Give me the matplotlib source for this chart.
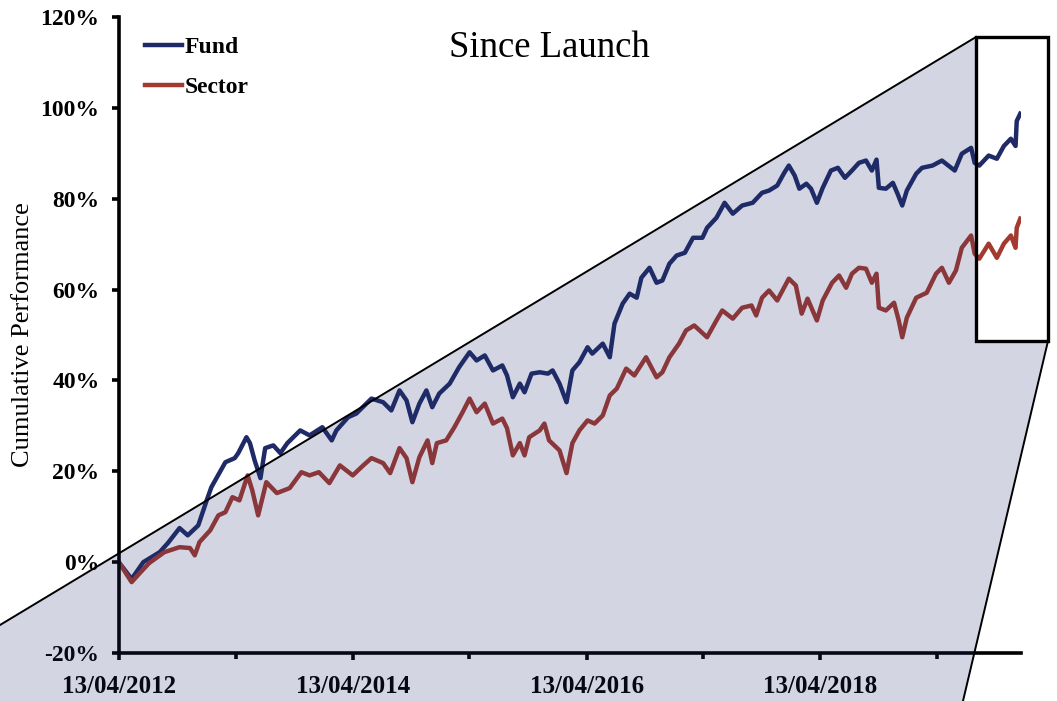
import matplotlib
matplotlib.use("Agg")
import matplotlib.pyplot as plt
from matplotlib.patches import Polygon, Rectangle
from matplotlib.lines import Line2D
from matplotlib.ticker import FuncFormatter
import pandas as pd
import numpy as np

plt.rcParams['font.family'] = ['Liberation Serif', 'DejaVu Serif']

# ---- data (fractional years, cumulative performance in %) ----
fund_years = [2012.28, 2012.39, 2012.49, 2012.63, 2012.70, 2012.80, 2012.87, 2012.96, 2013.03, 2013.07,
              2013.19, 2013.27, 2013.30, 2013.37, 2013.40, 2013.44, 2013.49, 2013.53, 2013.60, 2013.66,
              2013.72, 2013.83, 2013.91, 2014.02, 2014.10, 2014.14, 2014.24, 2014.31, 2014.44, 2014.54,
              2014.61, 2014.68, 2014.74, 2014.79, 2014.85, 2014.91, 2014.96, 2015.02, 2015.11, 2015.19,
              2015.28, 2015.34, 2015.41, 2015.48, 2015.56, 2015.60, 2015.65, 2015.71, 2015.75, 2015.81,
              2015.88, 2015.95, 2015.99, 2016.05, 2016.11, 2016.16, 2016.22, 2016.29, 2016.33, 2016.42,
              2016.48, 2016.52, 2016.59, 2016.65, 2016.71, 2016.75, 2016.82, 2016.88, 2016.93, 2016.99,
              2017.05, 2017.12, 2017.19, 2017.27, 2017.31, 2017.39, 2017.46, 2017.53, 2017.61, 2017.70,
              2017.78, 2017.84, 2017.91, 2017.97, 2018.01, 2018.06, 2018.10, 2018.16, 2018.20, 2018.25,
              2018.30, 2018.37, 2018.43, 2018.49, 2018.55, 2018.61, 2018.67, 2018.72, 2018.76, 2018.78,
              2018.84, 2018.90, 2018.94, 2018.98, 2019.02, 2019.10, 2019.15, 2019.24, 2019.32, 2019.43,
              2019.49, 2019.57, 2019.60, 2019.64, 2019.72, 2019.79, 2019.85, 2019.91, 2019.95, 2019.96,
              2019.99]
fund_values = [0.0, -3.7, 0.0, 2.2, 4.2, 7.5, 5.9, 8.1, 13.6, 16.5,
               22.0, 22.9, 24.0, 27.5, 26.2, 22.4, 18.5, 25.1, 25.7, 24.0,
               26.2, 29.0, 27.9, 29.7, 26.8, 29.0, 31.9, 32.7, 36.0, 35.2,
               33.4, 37.8, 35.6, 30.8, 34.9, 37.8, 34.1, 37.1, 39.3, 42.9,
               46.2, 44.4, 45.5, 42.2, 43.3, 41.1, 36.3, 39.3, 37.4, 41.5,
               41.8, 41.5, 42.2, 39.3, 35.2, 42.2, 44.0, 47.3, 45.9, 48.1,
               45.1, 52.5, 56.9, 59.1, 58.2, 62.6, 64.8, 61.5, 62.0, 65.7,
               67.5, 68.1, 71.4, 71.4, 73.6, 75.8, 79.1, 76.7, 78.5, 79.1,
               81.3, 81.8, 82.9, 85.7, 87.3, 85.1, 82.2, 83.3, 82.2, 79.1,
               82.4, 86.2, 86.8, 84.6, 86.2, 87.9, 88.4, 86.2, 88.6, 82.4,
               82.2, 83.5, 81.1, 78.5, 81.8, 85.5, 86.8, 87.3, 88.4, 86.2,
               89.9, 91.2, 87.9, 87.3, 89.5, 88.8, 91.6, 93.2, 91.6, 97.1,
               98.7]

sector_years = [2012.28, 2012.39, 2012.46, 2012.54, 2012.67, 2012.80, 2012.89, 2012.93, 2012.97, 2013.06,
                2013.13, 2013.19, 2013.25, 2013.31, 2013.38, 2013.42, 2013.47, 2013.54, 2013.63, 2013.74,
                2013.84, 2013.91, 2013.99, 2014.08, 2014.17, 2014.28, 2014.37, 2014.44, 2014.54, 2014.60,
                2014.68, 2014.74, 2014.79, 2014.85, 2014.92, 2014.96, 2015.00, 2015.08, 2015.15, 2015.22,
                2015.28, 2015.34, 2015.41, 2015.48, 2015.56, 2015.60, 2015.65, 2015.71, 2015.75, 2015.79,
                2015.88, 2015.92, 2015.96, 2016.05, 2016.11, 2016.16, 2016.22, 2016.29, 2016.35, 2016.42,
                2016.48, 2016.54, 2016.62, 2016.69, 2016.79, 2016.88, 2016.93, 2016.99, 2017.07, 2017.13,
                2017.20, 2017.31, 2017.39, 2017.44, 2017.53, 2017.61, 2017.69, 2017.73, 2017.78, 2017.84,
                2017.91, 2018.01, 2018.07, 2018.12, 2018.17, 2018.25, 2018.30, 2018.38, 2018.44, 2018.50,
                2018.55, 2018.61, 2018.67, 2018.72, 2018.76, 2018.78, 2018.84, 2018.91, 2018.95, 2018.98,
                2019.02, 2019.10, 2019.19, 2019.27, 2019.32, 2019.38, 2019.44, 2019.49, 2019.57, 2019.60,
                2019.64, 2019.72, 2019.79, 2019.85, 2019.91, 2019.95, 2019.96, 2019.99]
sector_values = [0.0, -4.4, -2.4, -0.2, 2.2, 3.3, 3.1, 1.5, 4.4, 7.0,
                 10.3, 11.0, 14.3, 13.6, 19.1, 15.8, 10.3, 17.6, 15.2, 16.3,
                 19.8, 19.1, 19.8, 17.4, 21.3, 19.1, 21.3, 22.9, 21.8, 19.6,
                 25.1, 22.9, 17.6, 23.1, 26.8, 21.8, 26.2, 26.8, 29.7, 33.0,
                 36.0, 33.0, 34.9, 30.5, 31.6, 29.5, 23.5, 26.2, 23.5, 27.5,
                 29.0, 30.5, 26.8, 24.6, 19.6, 26.2, 29.0, 31.2, 30.5, 32.3,
                 36.7, 38.2, 42.6, 41.1, 45.1, 40.7, 41.8, 45.1, 48.1, 51.0,
                 52.1, 49.5, 53.2, 55.4, 53.6, 56.0, 56.5, 54.3, 58.2, 59.8,
                 57.6, 62.4, 60.9, 54.7, 58.0, 53.2, 57.6, 61.5, 63.1, 60.4,
                 63.5, 64.8, 64.6, 61.5, 63.5, 56.0, 55.4, 57.1, 53.2, 49.5,
                 53.8, 58.2, 59.3, 63.5, 64.8, 61.5, 64.2, 69.2, 71.9, 67.9,
                 66.8, 70.1, 67.0, 70.1, 71.9, 69.2, 73.6, 75.6]

series_names = ["Fund", "Sector"]
series_colors = ["#1f2a66", "#a3392f"]
tick_dates = ["2012-04-13", "2013-04-13", "2014-04-13", "2015-04-13", "2016-04-13",
              "2017-04-13", "2018-04-13", "2019-04-13"]
y_ticks = [-20, 0, 20, 40, 60, 80, 100, 120]


def to_dates(years):
    out = []
    for y in years:
        yi = int(np.floor(y))
        out.append(pd.Timestamp(f"{yi}-01-01") + pd.Timedelta(days=(y - yi) * 365.25))
    return pd.to_datetime(out)


W, H = 1057, 701
fig = plt.figure(figsize=(W / 100, H / 100), dpi=100)
ax = fig.add_axes([119 / W, 1 - 653 / H, (1021 - 119) / W, (653 - 17) / H])
ax.patch.set_alpha(0)

ax.plot(to_dates(fund_years), fund_values, color=series_colors[0], lw=3.2,
        label=series_names[0], solid_joinstyle='round')
ax.plot(to_dates(sector_years), sector_values, color=series_colors[1], lw=3.2,
        label=series_names[1], solid_joinstyle='round')

ax.set_ylim(-20, 120)
ax.set_yticks(y_ticks)
ax.yaxis.set_major_formatter(FuncFormatter(lambda v, p: f"{int(v)}%"))
ax.set_xlim(pd.Timestamp("2012-04-13"), pd.Timestamp("2019-12-31"))
td = pd.to_datetime(tick_dates)
ax.set_xticks(td[::2])
ax.set_xticks(td[1::2], minor=True)
ax.set_xticklabels([d.strftime("%d/%m/%Y") for d in td[::2]])

for s in ["top", "right"]:
    ax.spines[s].set_visible(False)
for s in ["left", "bottom"]:
    ax.spines[s].set_linewidth(2.6)
    ax.spines[s].set_color("black")
ax.tick_params(axis="both", which="major", direction="out", length=5, width=2.6,
               colors="black")
ax.tick_params(axis="y", labelsize=17, pad=9)
ax.tick_params(axis="x", labelsize=18, pad=11)
ax.tick_params(axis="x", which="minor", direction="out", length=4, width=2.6)
for lab in ax.get_xticklabels() + ax.get_yticklabels():
    lab.set_fontweight("bold")

ax.set_ylabel("Cumulative Performance", fontsize=19)
ax.yaxis.set_label_coords(-(119 - 34) / (1021 - 119), 0.5)

leg = ax.legend(loc="upper left", bbox_to_anchor=(17 / 902, 1 - 10 / 636), frameon=False,
                prop={"size": 17, "weight": "bold"}, handlelength=1.55, handletextpad=0.1,
                labelspacing=0.78, borderaxespad=0)

fig.text(549 / W, 1 - 48 / H, "Since Launch", fontsize=26.5, ha="center", va="center")


def fp(x, y):
    return (x / W, 1 - y / H)


poly = Polygon([fp(0, 625), fp(976, 37), fp(976, 341), fp(1048, 341), fp(963, 701), fp(0, 701)],
               closed=True, transform=fig.transFigure, facecolor=(35 / 255, 50 / 255, 110 / 255),
               alpha=0.2, edgecolor="none", zorder=10)
fig.add_artist(poly)
fig.add_artist(Line2D([0, 976 / W], [1 - 625 / H, 1 - 37 / H], transform=fig.transFigure,
                      color="black", lw=1.4, zorder=11))
fig.add_artist(Line2D([1048 / W, 963 / W], [1 - 341 / H, 1 - 701 / H], transform=fig.transFigure,
                      color="black", lw=1.4, zorder=11))
fig.add_artist(Rectangle(fp(976, 341), (1048 - 976) / W, (341 - 37) / H, transform=fig.transFigure,
                         facecolor="none", edgecolor="black", lw=2.4, zorder=11))

fig.savefig("out.png", dpi=100)
